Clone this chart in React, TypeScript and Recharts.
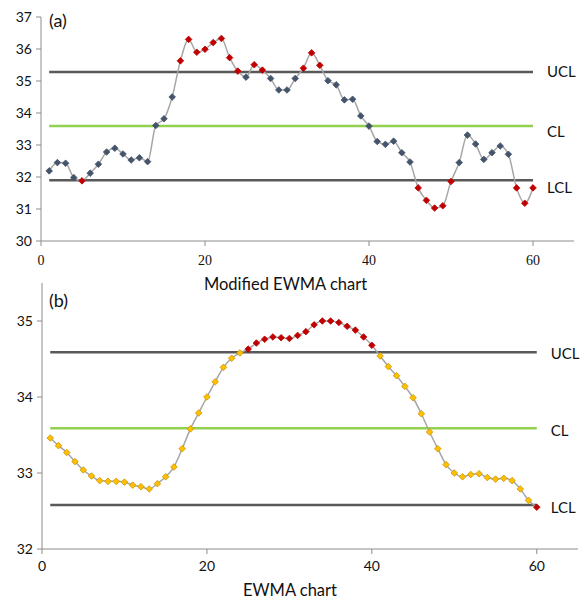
import React from "react";
import {
  ComposedChart,
  Line,
  XAxis,
  YAxis,
  ReferenceLine,
} from "recharts";

// サンプル番号 1..60
const samples = Array.from({ length: 60 }, (_, i) => i + 1);

// (a) Modified EWMA
const modEwma = [
  32.19, 32.45, 32.43, 31.98, 31.88, 32.12, 32.4, 32.78, 32.9, 32.72,
  32.53, 32.6, 32.48, 33.61, 33.82, 34.5, 35.63, 36.3, 35.9, 35.99,
  36.2, 36.33, 35.73, 35.31, 35.12, 35.51, 35.34, 35.08, 34.72, 34.72,
  35.08, 35.4, 35.88, 35.49, 35.01, 34.88, 34.41, 34.43, 33.91, 33.59,
  33.11, 33.02, 33.12, 32.76, 32.47, 31.66, 31.27, 31.03, 31.1, 31.86,
  32.45, 33.31, 33.03, 32.55, 32.76, 32.97, 32.71, 31.66, 31.18, 31.66,
];
const limitsA = { ucl: 35.28, cl: 33.59, lcl: 31.9 };

// (b) EWMA
const ewma = [
  33.46, 33.36, 33.27, 33.15, 33.04, 32.96, 32.9, 32.89, 32.89, 32.88,
  32.84, 32.82, 32.79, 32.86, 32.95, 33.08, 33.32, 33.58, 33.79, 34.0,
  34.2, 34.39, 34.51, 34.58, 34.63, 34.71, 34.76, 34.79, 34.78, 34.77,
  34.81, 34.86, 34.95, 35.0, 35.0, 34.98, 34.93, 34.88, 34.79, 34.68,
  34.54, 34.4, 34.28, 34.14, 33.99, 33.78, 33.54, 33.32, 33.11, 33.0,
  32.95, 32.98, 32.99, 32.94, 32.92, 32.93, 32.9, 32.79, 32.64, 32.55,
];
const limitsB = { ucl: 34.59, cl: 33.59, lcl: 32.58 };

const xTicks = [0, 20, 40, 60];
const yTicksA = [30, 31, 32, 33, 34, 35, 36, 37];
const yTicksB = [32, 33, 34, 35];

const SANS = "Lato, 'Open Sans', sans-serif";
const SERIF = "'Liberation Serif', 'DejaVu Serif', serif";
const AXIS = "#8c8c8c";
const RED = "#c00000";

// 管理限界の外側は赤いひし形
function makeDot(limits: { ucl: number; lcl: number }, normalFill: string, normalStroke: string) {
  return (p: any) => {
    const { cx, cy, payload, index } = p;
    if (cx == null || cy == null) return <g key={index} />;
    const out = payload.v > limits.ucl || payload.v < limits.lcl;
    const r = 3.3;
    return (
      <polygon
        key={index}
        points={`${cx},${cy - r} ${cx + r},${cy} ${cx},${cy + r} ${cx - r},${cy}`}
        fill={out ? RED : normalFill}
        stroke={out ? RED : normalStroke}
        strokeWidth={0.8}
        strokeLinejoin="round"
      />
    );
  };
}

function ControlChart({
  values,
  limits,
  domain,
  yTicks,
  width,
  height,
  margin,
  yWidth,
  xHeight,
  xLabel,
  labelDx,
  tickFont,
  tickMargin,
  dotFill,
  dotStroke,
  labelDy,
}: any) {
  const data = samples.map((x, i) => ({ x, v: values[i] }));
  const lab = (value: string, d: number) => ({
    value,
    position: "right" as const,
    offset: 14,
    fill: "#111",
    fontSize: 15,
    fontFamily: SANS,
    dy: d,
  });
  return (
    <ComposedChart width={width} height={height} data={data} margin={margin}>
      <XAxis
        dataKey="x"
        type="number"
        domain={[0, 65]}
        ticks={xTicks}
        height={xHeight}
        axisLine={{ stroke: AXIS }}
        tickLine={{ stroke: AXIS }}
        tickSize={5}
        tickMargin={tickMargin}
        tick={{ fontSize: 14, fill: "#111", fontFamily: tickFont }}
        label={{
          value: xLabel,
          position: "insideBottom",
          offset: 3,
          dx: labelDx,
          fontSize: 16.5,
          fill: "#111",
          fontFamily: SANS,
        }}
      />
      <YAxis
        type="number"
        domain={domain}
        ticks={yTicks}
        width={yWidth}
        axisLine={{ stroke: AXIS }}
        tickLine={{ stroke: AXIS }}
        tickSize={5}
        tickMargin={4}
        tick={{ fontSize: 14, fill: "#111", fontFamily: SANS }}
      />
      <ReferenceLine
        segment={[{ x: 1, y: limits.ucl }, { x: 60, y: limits.ucl }]}
        stroke="#595959"
        strokeWidth={2.5}
        label={lab("UCL", labelDy[0])}
      />
      <ReferenceLine
        segment={[{ x: 1, y: limits.cl }, { x: 60, y: limits.cl }]}
        stroke="#92d050"
        strokeWidth={2.5}
        label={lab("CL", labelDy[1])}
      />
      <ReferenceLine
        segment={[{ x: 1, y: limits.lcl }, { x: 60, y: limits.lcl }]}
        stroke="#595959"
        strokeWidth={2.5}
        label={lab("LCL", labelDy[2])}
      />
      <Line
        type="monotone"
        dataKey="v"
        stroke="#a6a6a6"
        strokeWidth={1.5}
        dot={makeDot(limits, dotFill, dotStroke)}
        activeDot={false}
        isAnimationActive={false}
      />
    </ComposedChart>
  );
}

export default function App() {
  const tag = (top: number): React.CSSProperties => ({
    position: "absolute",
    left: 49,
    top,
    fontFamily: SANS,
    fontSize: 18,
    color: "#111",
    lineHeight: "20px",
  });
  return (
    <div style={{ position: "absolute", left: 0, top: 0, width: 581, height: 599, background: "#fff", overflow: "hidden" }}>
      <div style={{ position: "absolute", left: 0, top: 0 }}>
        <ControlChart
          values={modEwma}
          limits={limitsA}
          domain={[30, 37]}
          yTicks={yTicksA}
          width={581}
          height={293}
          margin={{ top: 17, right: 7, bottom: 0, left: 0 }}
          yWidth={41}
          xHeight={52}
          xLabel="Modified EWMA chart"
          labelDx={-22}
          tickFont={SERIF}
          tickMargin={9}
          dotFill="#44546a"
          dotStroke="#44546a"
          labelDy={[0, 6, 7]}
        />
      </div>
      <div style={{ position: "absolute", left: 0, top: 283 }}>
        <ControlChart
          values={ewma}
          limits={limitsB}
          domain={[32, 35.5]}
          yTicks={yTicksB}
          width={581}
          height={316}
          margin={{ top: 0, right: 3, bottom: 0, left: 0 }}
          yWidth={42}
          xHeight={50}
          xLabel="EWMA chart"
          labelDx={-20}
          tickFont={SANS}
          tickMargin={7}
          dotFill="#ffc000"
          dotStroke="#c99400"
          labelDy={[2, 3, 3]}
        />
      </div>
      <div style={tag(10)}>(a)</div>
      <div style={tag(290)}>(b)</div>
    </div>
  );
}
